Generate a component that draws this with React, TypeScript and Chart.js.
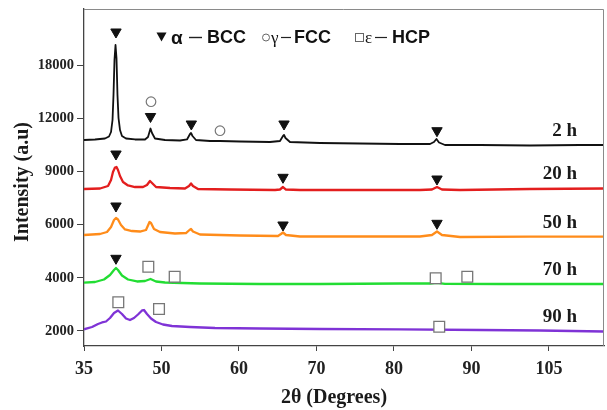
import { useEffect, useRef } from 'react';
import { Chart, registerables } from 'chart.js';

Chart.register(...registerables);

const SERIF = '"Liberation Serif", "Times New Roman", serif';
const SANS = '"Liberation Sans", Arial, sans-serif';

// Axis tick labels (evenly spaced on the original figure)
const X_TICK_LABELS = [35, 50, 60, 70, 80, 90, 105];
const Y_TICK_LABELS = [2000, 4000, 6000, 9000, 12000, 18000];
const X_MAX = 115.65;
const Y_MIN = 1436;
const Y_MAX = 24316;

const SERIES_NAMES = ['2 h', '20 h', '50 h', '70 h', '90 h'];
const SERIES_COLORS = ['#111111', '#e31e1e', '#ff8c1a', '#22dd33', '#7f33d6'];

const angle2h = [35.0, 37.13, 39.06, 39.84, 40.23, 40.52, 40.71, 40.9, 41.1, 41.29, 41.48, 41.68, 41.97, 42.35, 43.13, 44.87, 46.81, 47.39, 47.87, 48.16, 48.74, 50.45, 52.39, 53.29, 53.68, 53.81, 54.0, 54.45, 56.26, 57.55, 60.13, 64.0, 65.29, 65.68, 65.81, 66.0, 66.58, 70.45, 75.61, 80.77, 84.65, 85.16, 85.48, 85.81, 86.58, 91.65, 101.32, 111.0, 115.65];
const intensity2h = [10770, 10800, 10855, 10968, 11222, 11898, 14616, 18564, 20256, 18789, 14616, 12023, 11335, 10996, 10855, 10800, 10800, 10940, 11419, 11165, 10855, 10771, 10742, 10800, 11109, 11165, 10996, 10771, 10714, 10714, 10686, 10658, 10714, 10996, 11053, 10883, 10658, 10601, 10573, 10545, 10545, 10658, 10827, 10630, 10489, 10489, 10461, 10489, 10489];

const angle20h = [35.0, 38.1, 39.65, 40.23, 40.61, 41.0, 41.29, 41.58, 41.97, 42.55, 43.52, 44.87, 46.42, 47.19, 47.77, 48.16, 48.94, 51.1, 53.03, 53.55, 53.81, 54.06, 54.71, 58.84, 64.65, 65.29, 65.68, 66.06, 67.87, 75.61, 83.35, 84.9, 85.55, 86.19, 88.52, 101.32, 115.65];
const intensity20h = [8007, 8036, 8177, 8515, 8966, 9220, 9248, 9079, 8741, 8402, 8205, 8120, 8120, 8233, 8459, 8346, 8120, 8064, 8036, 8177, 8318, 8177, 8007, 7979, 7951, 7979, 8120, 7979, 7951, 7951, 7951, 7979, 8120, 7979, 7951, 8007, 8036];

const angle50h = [35.0, 38.1, 39.45, 40.23, 40.81, 41.19, 41.58, 42.16, 42.94, 44.29, 45.84, 47.0, 47.68, 47.97, 48.55, 49.71, 51.74, 53.16, 53.61, 53.81, 54.06, 54.97, 60.13, 65.03, 65.42, 65.68, 66.06, 67.87, 75.61, 83.35, 84.9, 85.55, 86.19, 88.52, 101.32, 115.65];
const intensity50h = [5609, 5646, 5722, 5910, 6259, 6372, 6288, 5985, 5816, 5759, 5740, 5797, 6147, 6090, 5834, 5722, 5665, 5684, 5797, 5834, 5740, 5628, 5590, 5571, 5646, 5703, 5609, 5552, 5552, 5552, 5609, 5740, 5609, 5534, 5545, 5545];

const angle70h = [35.0, 37.13, 38.87, 40.03, 40.81, 41.19, 41.58, 42.35, 43.52, 45.26, 46.81, 47.87, 48.94, 50.45, 54.97, 62.71, 70.45, 80.77, 84.65, 85.55, 86.58, 95.52, 115.65];
const intensity70h = [3816, 3842, 3936, 4105, 4293, 4368, 4293, 4086, 3936, 3861, 3880, 3955, 3861, 3823, 3786, 3767, 3767, 3786, 3786, 3812, 3774, 3767, 3767];

const angle90h = [35.0, 36.55, 37.71, 38.48, 39.26, 40.03, 40.81, 41.58, 42.35, 43.13, 43.9, 44.68, 45.45, 46.23, 46.61, 47.19, 47.97, 48.94, 50.19, 51.35, 53.68, 56.9, 62.71, 70.45, 80.77, 91.65, 103.26, 115.65];
const intensity90h = [2064, 2150, 2263, 2320, 2357, 2489, 2677, 2771, 2639, 2470, 2413, 2489, 2620, 2771, 2789, 2639, 2470, 2338, 2244, 2188, 2150, 2113, 2094, 2075, 2064, 2038, 2019, 1981];

// Phase markers
const bccAngles = [41.19, 41.19, 47.87, 53.85, 65.81, 85.55, 65.68, 85.55, 41.19, 65.68, 85.55, 41.19];
const bccIntensities = [21722, 9981, 12192, 11673, 11673, 11295, 8667, 8571, 7049, 5985, 6073, 4733];
const fccAngles = [47.97, 57.55];
const fccIntensities = [13861, 11295];
const hcpAngles = [47.45, 51.7, 85.38, 89.46, 41.64, 49.52, 85.84];
const hcpIntensities = [4417, 4041, 3981, 4041, 3079, 2827, 2162];

const SERIES_ANGLES = [angle2h, angle20h, angle50h, angle70h, angle90h];
const SERIES_INTENSITIES = [intensity2h, intensity20h, intensity50h, intensity70h, intensity90h];

// piecewise mapping of a value onto the evenly spaced tick positions
function toPos(v: number, ticks: number[]) {
  const n = ticks.length;
  if (v <= ticks[0]) return (v - ticks[0]) / (ticks[1] - ticks[0]);
  for (let i = 0; i < n - 1; i++) {
    if (v <= ticks[i + 1]) return i + (v - ticks[i]) / (ticks[i + 1] - ticks[i]);
  }
  return n - 1 + (v - ticks[n - 1]) / (ticks[n - 1] - ticks[n - 2]);
}

function points(angles: number[], intens: number[]) {
  return angles.map((a, i) => ({ x: toPos(a, X_TICK_LABELS), y: toPos(intens[i], Y_TICK_LABELS) }));
}

const decorPlugin = {
  id: 'decor',
  afterDraw(chart: any) {
    const { ctx, chartArea: a, scales } = chart;
    ctx.save();
    // top and right frame
    ctx.strokeStyle = '#8a8a8a';
    ctx.lineWidth = 1;
    ctx.beginPath();
    ctx.moveTo(a.left, a.top + 0.5);
    ctx.lineTo(a.right - 0.5, a.top + 0.5);
    ctx.lineTo(a.right - 0.5, a.bottom);
    ctx.stroke();

    // series labels
    ctx.fillStyle = '#1a1a1a';
    ctx.font = `bold 19px ${SERIF}`;
    ctx.textAlign = 'right';
    ctx.textBaseline = 'middle';
    SERIES_NAMES.forEach((name, i) => {
      const arr = SERIES_INTENSITIES[i];
      const y = scales.y.getPixelForValue(toPos(arr[arr.length - 1], Y_TICK_LABELS)) - 14;
      ctx.fillText(name, a.right - 27, y);
    });

    // axis titles
    ctx.font = `bold 20px ${SERIF}`;
    ctx.textAlign = 'center';
    ctx.fillText('2θ (Degrees)', 334, 398);
    ctx.save();
    ctx.translate(23, 182);
    ctx.rotate(-Math.PI / 2);
    ctx.fillText('Intensity (a.u)', 0, 0);
    ctx.restore();

    // legend
    const base = 43;
    ctx.textAlign = 'left';
    ctx.textBaseline = 'alphabetic';
    ctx.fillStyle = '#111';
    ctx.beginPath();
    ctx.moveTo(156.5, 32.5);
    ctx.lineTo(166.5, 32.5);
    ctx.lineTo(161.5, 41.5);
    ctx.closePath();
    ctx.fill();
    ctx.font = `bold 19px ${SANS}`;
    ctx.fillText('α', 171, base + 1);
    ctx.strokeStyle = '#222';
    ctx.lineWidth = 1.4;
    const dash = (x1: number, x2: number) => {
      ctx.beginPath();
      ctx.moveTo(x1, 37.5);
      ctx.lineTo(x2, 37.5);
      ctx.stroke();
    };
    dash(189, 202);
    ctx.font = `bold 18px ${SANS}`;
    ctx.fillText('BCC', 207, base);

    ctx.strokeStyle = '#666';
    ctx.lineWidth = 1;
    ctx.beginPath();
    ctx.arc(266, 37.5, 3.5, 0, Math.PI * 2);
    ctx.stroke();
    ctx.font = `17px ${SERIF}`;
    ctx.fillText('γ', 271, base);
    ctx.strokeStyle = '#222';
    ctx.lineWidth = 1.2;
    dash(281, 291);
    ctx.font = `bold 18px ${SANS}`;
    ctx.fillText('FCC', 294, base);

    ctx.strokeStyle = '#666';
    ctx.lineWidth = 1;
    ctx.strokeRect(355.5, 33.5, 8, 8);
    ctx.font = `17px ${SERIF}`;
    ctx.fillText('ε', 365, base);
    ctx.strokeStyle = '#222';
    ctx.lineWidth = 1.2;
    dash(375, 387);
    ctx.font = `bold 18px ${SANS}`;
    ctx.fillText('HCP', 392, base);
    ctx.restore();
  },
};

export default function App() {
  const ref = useRef<HTMLCanvasElement | null>(null);

  useEffect(() => {
    if (!ref.current) return;
    const markerSets: any[] = [
      {
        type: 'scatter',
        data: points(bccAngles, bccIntensities),
        pointStyle: 'triangle',
        pointRotation: 180,
        pointRadius: 6,
        pointHoverRadius: 6,
        pointBackgroundColor: '#111',
        pointBorderColor: '#111',
        pointBorderWidth: 1,
        showLine: false,
      },
      {
        type: 'scatter',
        data: points(fccAngles, fccIntensities),
        pointStyle: 'circle',
        pointRadius: 4.8,
        pointHoverRadius: 4.8,
        pointBackgroundColor: '#ffffff',
        pointBorderColor: '#777',
        pointBorderWidth: 1.2,
        showLine: false,
      },
      {
        type: 'scatter',
        data: points(hcpAngles, hcpIntensities),
        pointStyle: 'rect',
        pointRadius: 7.6,
        pointHoverRadius: 7.6,
        pointBackgroundColor: '#ffffff',
        pointBorderColor: '#777',
        pointBorderWidth: 1.3,
        showLine: false,
      },
    ];
    const curveSets: any[] = SERIES_NAMES.map((name, i) => ({
      type: 'line',
      label: name,
      data: points(SERIES_ANGLES[i], SERIES_INTENSITIES[i]),
      borderColor: SERIES_COLORS[i],
      borderWidth: i === 0 ? 1.8 : 2.3,
      pointRadius: 0,
      tension: 0,
      fill: false,
      borderJoinStyle: 'round',
    }));

    const tickFont = (size: number) => ({ family: SERIF, size, weight: 'bold' as const });

    const chart = new Chart(ref.current, {
      type: 'line',
      data: { datasets: [...markerSets, ...curveSets] },
      options: {
        animation: false,
        responsive: false,
        events: [],
        layout: { autoPadding: false, padding: { left: 0, right: 3, top: 9, bottom: 0 } },
        plugins: { legend: { display: false }, tooltip: { enabled: false } },
        scales: {
          x: {
            type: 'linear',
            min: toPos(X_TICK_LABELS[0], X_TICK_LABELS),
            max: toPos(X_MAX, X_TICK_LABELS),
            afterBuildTicks: (s: any) => {
              s.ticks = X_TICK_LABELS.map((_, i) => ({ value: i }));
            },
            afterFit: (s: any) => {
              s.height = 64;
              s.paddingLeft = 0;
              s.paddingRight = 0;
            },
            ticks: {
              callback: (v: any) => String(X_TICK_LABELS[Math.round(Number(v))] ?? ''),
              font: tickFont(18),
              color: '#222',
              padding: 8,
              autoSkip: false,
              maxRotation: 0,
            },
            grid: { drawOnChartArea: false, drawTicks: true, tickLength: 5, color: '#444', tickWidth: 1 },
            border: { display: true, color: '#444', width: 1.3 },
          },
          y: {
            type: 'linear',
            min: toPos(Y_MIN, Y_TICK_LABELS),
            max: toPos(Y_MAX, Y_TICK_LABELS),
            afterBuildTicks: (s: any) => {
              s.ticks = Y_TICK_LABELS.map((_, i) => ({ value: i }));
            },
            afterFit: (s: any) => {
              s.width = 84;
              s.paddingTop = 0;
              s.paddingBottom = 0;
            },
            ticks: {
              callback: (v: any) => String(Y_TICK_LABELS[Math.round(Number(v))] ?? ''),
              font: tickFont(14.5),
              color: '#222',
              padding: 3,
              autoSkip: false,
            },
            grid: { drawOnChartArea: false, drawTicks: true, tickLength: 7, color: '#444', tickWidth: 1 },
            border: { display: true, color: '#444', width: 1.3 },
          },
        },
      },
      plugins: [decorPlugin],
    });
    return () => chart.destroy();
  }, []);

  return (
    <div style={{ position: 'fixed', left: 0, top: 0, width: 607, height: 410, background: '#ffffff' }}>
      <canvas ref={ref} width={607} height={410} style={{ display: 'block' }} />
    </div>
  );
}
